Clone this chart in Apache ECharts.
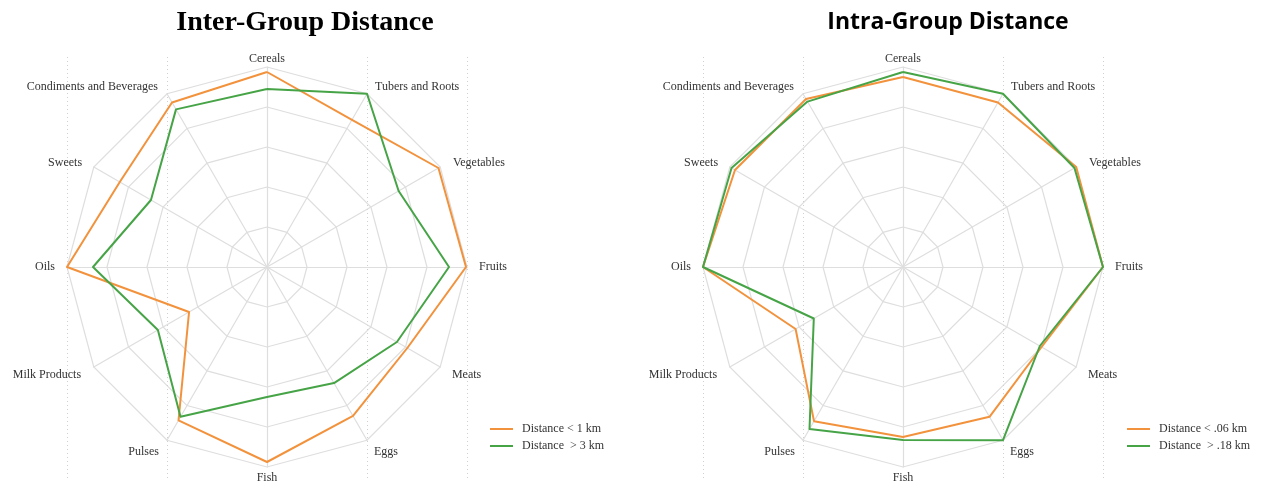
<!DOCTYPE html>
<html>
<head>
<meta charset="utf-8">
<script src="https://cdn.jsdelivr.net/npm/echarts@6/dist/echarts.min.js"></script>
<style>
html,body{margin:0;padding:0;background:#fff;}
#chart{width:1265px;height:488px;}
</style>
</head>
<body>
<div id="chart"></div>
<script>
// Categories in clockwise order starting at the top
const categories = ['Cereals', 'Tubers and Roots', 'Vegetables', 'Fruits', 'Meats', 'Eggs', 'Fish', 'Pulses', 'Milk Products', 'Oils', 'Sweets', 'Condiments and Beverages'];

const interNear = [0.975, 0.85, 0.99, 0.995, 0.81, 0.86, 0.975, 0.885, 0.45, 1.0, 0.85, 0.95];
const interFar  = [0.89, 1.0, 0.76, 0.91, 0.75, 0.67, 0.65, 0.865, 0.63, 0.87, 0.67, 0.91];
const intraNear = [0.95, 0.95, 1.0, 1.0, 0.80, 0.865, 0.85, 0.89, 0.62, 1.0, 0.97, 0.97];
const intraFar  = [0.975, 1.0, 0.99, 1.0, 0.79, 1.0, 0.865, 0.935, 0.515, 1.0, 0.99, 0.955];

const seriesNames = {
  interNear: 'Distance < 1 km', interFar: 'Distance  > 3 km',
  intraNear: 'Distance < .06 km', intraFar: 'Distance  > .18 km'
};
const titles = ['Inter-Group Distance', 'Intra-Group Distance'];
const maxValue = 1;

// label padding [top, right, bottom, left] per category (clockwise order)
const labelPad = [
  [0, 0, 0, 0],   // Cereals
  [0, 0, 10, 7],  // Tubers and Roots
  [0, 0, 6, 11],  // Vegetables
  [0, 0, 0, 10],  // Fruits
  [14, 0, 0, 10], // Meats
  [20, 0, 0, 6],  // Eggs
  [3, 0, 0, 0],   // Fish
  [20, 7, 0, 0],  // Pulses
  [14, 11, 0, 0], // Milk Products
  [0, 10, 0, 0],  // Oils
  [0, 10, 6, 0],  // Sweets
  [0, 8, 10, 0]   // Condiments and Beverages
];

const ORANGE = '#F2923C';
const GREEN = '#46A447';
const serif = 'Liberation Serif';

// ECharts radar runs counter-clockwise; reorder so display is clockwise
function ccw(arr) { return [arr[0]].concat(arr.slice(1).reverse()); }
const indicators = ccw(categories).map(n => ({ name: n, max: maxValue, min: 0 }));

const rich = {};
categories.forEach((c, i) => {
  rich['k' + i] = { padding: labelPad[i], fontFamily: serif, fontSize: 12, color: '#333' };
});

function radarCfg(cx) {
  return {
    center: [cx, 267],
    radius: 200,
    startAngle: 90,
    splitNumber: 5,
    shape: 'polygon',
    indicator: indicators,
    axisName: {
      color: '#333', fontFamily: serif, fontSize: 12,
      formatter: (name) => '{k' + categories.indexOf(name) + '|' + name + '}',
      rich: rich
    },
    nameGap: 2,
    splitLine: { lineStyle: { color: '#dedede', width: 1.2 } },
    splitArea: { show: false },
    axisLine: { lineStyle: { color: '#dedede', width: 1.2 } },
    axisTick: { show: false },
    axisLabel: { show: false }
  };
}

function dotGrid(left) {
  return { left: left, width: 400, top: 57, bottom: 8, show: false };
}
function dotX(idx) {
  return {
    gridIndex: idx, type: 'category', data: ['a', 'b', 'c', 'd', 'e'], boundaryGap: false,
    axisLine: { show: false }, axisTick: { show: false }, axisLabel: { show: false },
    splitLine: { show: true, interval: (i) => i !== 2, lineStyle: { color: '#d0d0d0', type: [1, 3], width: 1 } }
  };
}
function dotY(idx) {
  return { gridIndex: idx, type: 'value', show: false, splitLine: { show: false } };
}

function radarSeries(idx, name, values, color) {
  return {
    type: 'radar', radarIndex: idx, symbol: 'none', name: name,
    data: [{ value: ccw(values), name: name }],
    lineStyle: { color: color, width: 2 },
    itemStyle: { color: color },
    z: 5
  };
}

const legendCommon = {
  orient: 'vertical', icon: 'rect', itemWidth: 23, itemHeight: 2, itemGap: 5,
  textStyle: { fontFamily: serif, fontSize: 12, color: '#333', padding: [0, 0, 0, 4] }
};

const chart = echarts.init(document.getElementById('chart'), null, { renderer: 'canvas' });
chart.setOption({
  animation: false,
  backgroundColor: '#fff',
  title: [
    { text: titles[0], left: 300, textAlign: 'center', top: 4,
      textStyle: { fontFamily: serif, fontWeight: 'bold', fontSize: 28, color: '#000' } },
    { text: titles[1], left: 943, textAlign: 'center', top: 6,
      textStyle: { fontFamily: 'Open Sans', fontWeight: 'bold', fontSize: 23, color: '#000' } }
  ],
  grid: [dotGrid(67), dotGrid(703)],
  xAxis: [dotX(0), dotX(1)],
  yAxis: [dotY(0), dotY(1)],
  radar: [radarCfg(267), radarCfg(903)],
  legend: [
    Object.assign({}, legendCommon, { left: 485, top: 418, data: [seriesNames.interNear, seriesNames.interFar] }),
    Object.assign({}, legendCommon, { left: 1122, top: 418, data: [seriesNames.intraNear, seriesNames.intraFar] })
  ],
  color: [ORANGE, GREEN, ORANGE, GREEN],
  series: [
    radarSeries(0, seriesNames.interNear, interNear, ORANGE),
    radarSeries(0, seriesNames.interFar, interFar, GREEN),
    radarSeries(1, seriesNames.intraNear, intraNear, ORANGE),
    radarSeries(1, seriesNames.intraFar, intraFar, GREEN)
  ]
});
</script>
</body>
</html>
